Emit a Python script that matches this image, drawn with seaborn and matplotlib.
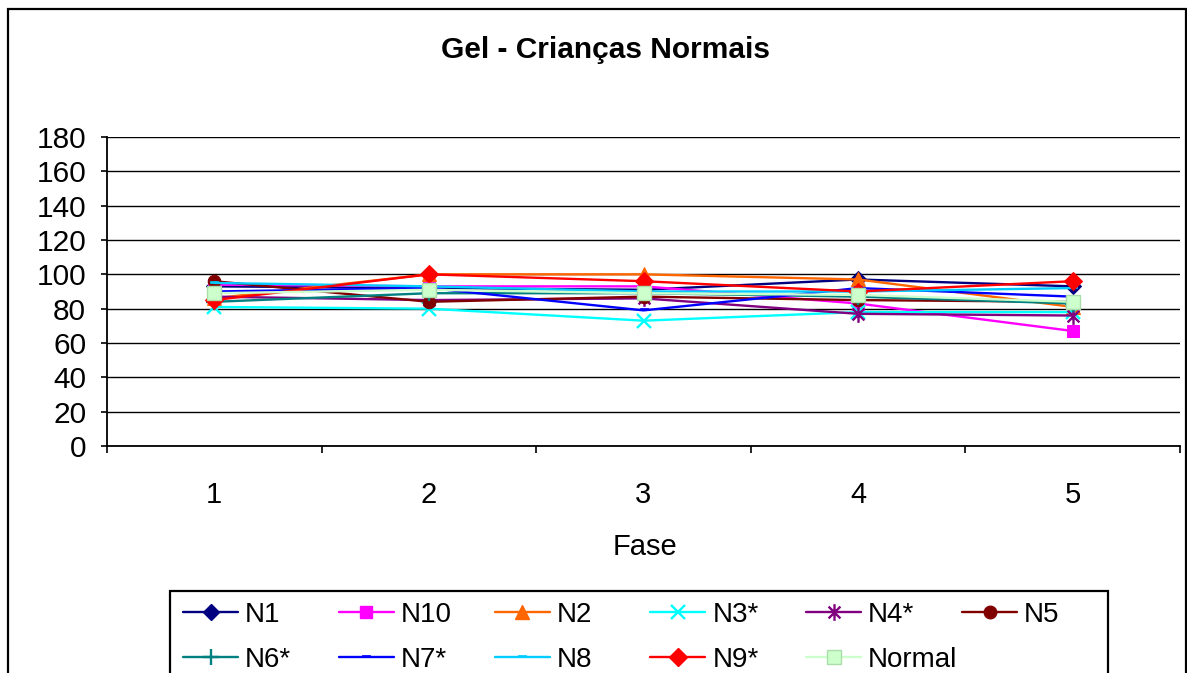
import matplotlib
matplotlib.use("Agg")
import matplotlib.pyplot as plt
from matplotlib.path import Path
from matplotlib.patches import Rectangle
from matplotlib.lines import Line2D
import seaborn as sns
import pandas as pd

# ---- data -------------------------------------------------------------
fases = [1, 2, 3, 4, 5]
series_names = ["N1", "N10", "N2", "N3*", "N4*", "N5", "N6*", "N7*", "N8", "N9*", "Normal"]
n1 = [93, 92, 91, 97, 93]
n10 = [94, 93, 93, 83, 67]
n2 = [86, 100, 100, 97, 81]
n3 = [81, 80, 73, 78, 78]
n4 = [87, 85, 86, 77, 76]
n5 = [96, 84, 87, 85, 84]
n6 = [84, 89, 89, 87, 83]
n7 = [90, 92, 79, 92, 87]
n8 = [95, 93, 90, 90, 92]
n9 = [85, 100, 96, 90, 96]
normal = [89, 91, 89, 88, 84]
y_ticks = [0, 20, 40, 60, 80, 100, 120, 140, 160, 180]

values = [n1, n10, n2, n3, n4, n5, n6, n7, n8, n9, normal]
df = pd.DataFrame(
    [(name, f, v) for name, vals in zip(series_names, values) for f, v in zip(fases, vals)],
    columns=["serie", "Fase", "valor"],
)

# ---- marker shapes ----------------------------------------------------
asterisk = Path(
    [(0, -1), (0, 1), (-0.71, -0.71), (0.71, 0.71), (-0.71, 0.71), (0.71, -0.71)],
    [Path.MOVETO, Path.LINETO] * 3,
)
dash = Path(
    [(-1, 0), (1, 0), (1, 0.55), (-1, 0.55), (-1, 0)],
    [Path.MOVETO, Path.LINETO, Path.LINETO, Path.LINETO, Path.CLOSEPOLY],
)

styles = {
    "N1": dict(color="#000080", marker="D", ms=8.5, mfc="#000080", mec="#000080"),
    "N10": dict(color="#FF00FF", marker="s", ms=9, mfc="#FF00FF", mec="#FF00FF"),
    "N2": dict(color="#FF6600", marker="^", ms=10, mfc="#FF6600", mec="#FF6600"),
    "N3*": dict(color="#00FFFF", marker="x", ms=10, mew=1.7, mec="#00FFFF"),
    "N4*": dict(color="#800080", marker=asterisk, ms=12, mew=1.7, mec="#800080", mfc="none"),
    "N5": dict(color="#800000", marker="o", ms=9, mfc="#800000", mec="#800000"),
    "N6*": dict(color="#008080", marker="+", ms=11, mew=1.7, mec="#008080"),
    "N7*": dict(color="#0000FF", marker=dash, ms=6, mfc="#0000FF", mec="#0000FF", mew=0.5),
    "N8": dict(color="#00CCFF", marker=dash, ms=6, mfc="#00CCFF", mec="#00CCFF", mew=0.5),
    "N9*": dict(color="#FF0000", marker="D", ms=9, mfc="#FF0000", mec="#FF0000"),
    "Normal": dict(color="#CCFFCC", marker="s", ms=10, mfc="#CCFFCC", mec="#A9DDA9", mew=1.0),
}

W, H = 1187, 673


def fig_xy(x, y):
    return x / W, 1 - y / H


sns.set_theme(style="white")
plt.rcParams["font.family"] = ["Liberation Sans", "DejaVu Sans"]

fig = plt.figure(figsize=(W / 100, H / 100), dpi=100)
fig.patch.set_facecolor("white")
ax_left, ax_top = fig_xy(107, 137)
ax_right, ax_bottom = fig_xy(1180, 446)
ax = fig.add_axes([ax_left, ax_bottom, ax_right - ax_left, ax_top - ax_bottom])
ax.set_facecolor("white")

for name in series_names:
    st = dict(styles[name])
    color = st.pop("color")
    sub = df[df["serie"] == name]
    sns.lineplot(data=sub, x="Fase", y="valor", ax=ax, color=color, lw=1.7,
                 legend=False, errorbar=None, zorder=3, clip_on=False, **st)

# ---- axes -------------------------------------------------------------
ax.set_ylim(0, 180)
ax.set_yticks(y_ticks)
ax.set_yticklabels([str(v) for v in y_ticks])
ax.set_xlim(0.5, 5.5)
ax.set_xticks([0.5, 1.5, 2.5, 3.5, 4.5, 5.5])
ax.set_xticklabels([])
ax.set_xticks(fases, minor=True)
ax.set_xticklabels([str(f) for f in fases], minor=True)
ax.tick_params(axis="x", which="major", direction="out", length=5, width=1.2,
               color="black", bottom=True)
ax.tick_params(axis="x", which="minor", length=0, pad=25, labelsize=21, labelcolor="black")
ax.tick_params(axis="y", which="major", direction="out", length=4, width=1.2,
               color="black", left=True, pad=11, labelsize=21.5, labelcolor="black")

ax.yaxis.grid(True, color="black", lw=1.0)
ax.xaxis.grid(False)
ax.set_axisbelow(True)
for side in ["top", "right"]:
    ax.spines[side].set_visible(False)
for side in ["left", "bottom"]:
    ax.spines[side].set_color("black")
    ax.spines[side].set_linewidth(1.3)

ax.set_ylabel("")
ax.set_xlabel("Fase", fontsize=21, color="black")
ax.xaxis.set_label_coords((645 - 107) / 1073, (446 - 533) / 309)

# ---- title ------------------------------------------------------------
tx, ty = fig_xy(606, 50)
fig.text(tx, ty, "Gel - Crianças Normais", ha="center", va="center",
         fontsize=21.5, fontweight="bold", color="black")

# ---- chart border -----------------------------------------------------
bx, by = fig_xy(8, 720)
fig.add_artist(Rectangle((bx, by), (1186 - 8) / W, (720 - 9) / H, transform=fig.transFigure,
                         fill=False, ec="black", lw=1.6, clip_on=False))

# ---- legend: six equal-width columns, two rows ------------------------
lx, ly = fig_xy(170, 720)
fig.add_artist(Rectangle((lx, ly), (1108 - 170) / W, (720 - 591) / H, transform=fig.transFigure,
                         fill=False, ec="black", lw=1.6, clip_on=False))


def handle(name):
    st = dict(styles[name])
    color = st.pop("color")
    return Line2D([], [], color=color, lw=1.7, **st)


columns = [["N1", "N6*"], ["N10", "N7*"], ["N2", "N8"], ["N3*", "N9*"], ["N4*", "Normal"], ["N5"]]
for k, col in enumerate(columns):
    x0 = 183 + k * 155.8
    cx, cy = fig_xy(x0, 602)
    fig.legend([handle(n) for n in col], col, loc="upper left",
               bbox_to_anchor=(cx, cy), bbox_transform=fig.transFigure,
               frameon=False, fontsize=20, handlelength=1.98, handletextpad=0.25,
               borderpad=0, borderaxespad=0, labelspacing=0.68, numpoints=1,
               labelcolor="black")

fig.savefig("out.png", dpi=100, facecolor="white")
